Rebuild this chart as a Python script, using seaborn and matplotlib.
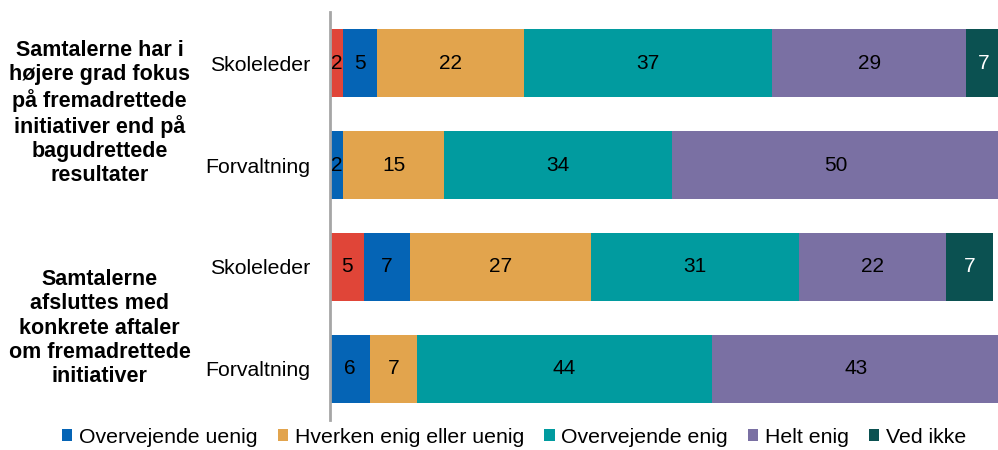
import numpy as np
import pandas as pd
import matplotlib
matplotlib.use("Agg")
import matplotlib.pyplot as plt
import matplotlib.transforms as mtransforms
from matplotlib.patches import Patch
import seaborn as sns

# Response categories (left to right in each bar)
series = ["Helt uenig", "Overvejende uenig", "Hverken enig eller uenig",
          "Overvejende enig", "Helt enig", "Ved ikke"]
colors = ["#E04538", "#0564B5", "#E2A44D", "#019B9F", "#7A70A3", "#0B5151"]

# Bars, top to bottom
row_labels = ["Skoleleder", "Forvaltning", "Skoleleder", "Forvaltning"]
group_labels = [
    "Samtalerne har i\nhøjere grad fokus\npå fremadrettede\ninitiativer end på\nbagudrettede\nresultater",
    "Samtalerne\nafsluttes med\nkonkrete aftaler\nom fremadrettede\ninitiativer",
]

# Percentages per category for each bar
helt_uenig = [2, 0, 5, 0]
overvejende_uenig = [5, 2, 7, 6]
hverken = [22, 15, 27, 7]
overvejende_enig = [37, 34, 31, 44]
helt_enig = [29, 50, 22, 43]
ved_ikke = [7, 0, 7, 0]

values = np.array([helt_uenig, overvejende_uenig, hverken,
                   overvejende_enig, helt_enig, ved_ikke], dtype=float)
cum = np.cumsum(values, axis=0)
starts = cum - values

row_keys = [f"r{i}" for i in range(len(row_labels))]

sns.set_theme(style="white")
plt.rcParams["font.family"] = ["Liberation Sans", "DejaVu Sans"]
plt.rcParams["text.color"] = "black"
plt.rcParams["xtick.color"] = "black"
plt.rcParams["ytick.color"] = "black"
plt.rcParams["axes.labelcolor"] = "black"

fig = plt.figure(figsize=(9.98, 4.5), dpi=100)
ax = fig.add_axes([0.3307, 0.0667, 0.6713, 0.9066])

# Stacked bars: draw cumulative totals from the outermost segment inwards
for i in reversed(range(len(series))):
    df = pd.DataFrame({"row": row_keys, "total": cum[i]})
    sns.barplot(data=df, x="total", y="row", order=row_keys, orient="h",
                color=colors[i], saturation=1, width=0.667, errorbar=None,
                linewidth=0, ax=ax)

ax.set_xlim(0, 100)
ax.set_ylim(3.5, -0.5)

# Segment value labels
for i in range(len(series)):
    for j in range(len(row_keys)):
        v = values[i, j]
        if v <= 0:
            continue
        x = (starts[i, j] + min(cum[i, j], 100)) / 2
        ax.text(x, j, f"{int(v)}", ha="center", va="center", fontsize=15,
                color="white" if series[i] == "Ved ikke" else "black")

ax.set_xlabel("")
ax.set_ylabel("")
ax.set_xticks([])
ax.set_yticks(range(len(row_keys)))
ax.set_yticklabels(row_labels, fontsize=15.3, color="black")
ax.tick_params(axis="y", length=0, pad=14)
for side in ["top", "right", "bottom"]:
    ax.spines[side].set_visible(False)
ax.spines["left"].set_color("#A6A6A6")
ax.spines["left"].set_linewidth(2)

# Bold group labels to the left of the tick labels
trans = mtransforms.blended_transform_factory(fig.transFigure, ax.transData)
ax.text(0.1, 0.49, group_labels[0], transform=trans, ha="center", va="center",
        fontsize=15.5, fontweight="bold", linespacing=1.18, color="black")
ax.text(0.1, 2.6, group_labels[1], transform=trans, ha="center", va="center",
        fontsize=15.5, fontweight="bold", linespacing=1.2, color="black")

handles = [Patch(facecolor=colors[i], edgecolor="none") for i in range(1, len(series))]
fig.legend(handles, series[1:], loc="lower center", bbox_to_anchor=(0.515, -0.035),
           ncol=5, frameon=False, fontsize=15.3, handlelength=0.5,
           handleheight=0.5, handletextpad=0.3, columnspacing=0.95,
           labelcolor="black")

fig.savefig("out.png", dpi=100)
